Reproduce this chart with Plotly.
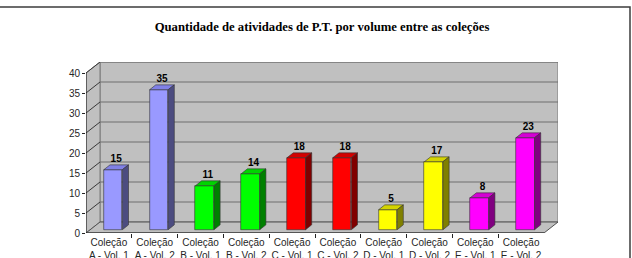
import plotly.graph_objects as go

# ---------------- data ----------------
categories = ["Coleção<br>A - Vol. 1", "Coleção<br>A - Vol. 2",
              "Coleção<br>B - Vol. 1", "Coleção<br>B - Vol. 2",
              "Coleção<br>C - Vol. 1", "Coleção<br>C - Vol. 2",
              "Coleção<br>D - Vol. 1", "Coleção<br>D - Vol. 2",
              "Coleção<br>E - Vol. 1", "Coleção<br>E - Vol. 2"]
values = [15, 35, 11, 14, 18, 18, 5, 17, 8, 23]
y_ticks = [0, 5, 10, 15, 20, 25, 30, 35, 40]

front_colors = ["#9999FF", "#9999FF", "#00FF00", "#00FF00", "#FF0000",
                "#FF0000", "#FFFF00", "#FFFF00", "#FF00FF", "#FF00FF"]
top_colors = ["#8080E6", "#8080E6", "#00D400", "#00D400", "#D40000",
              "#D40000", "#D4D400", "#D4D400", "#D400D4", "#D400D4"]
side_colors = ["#4C4C80", "#4C4C80", "#008000", "#008000", "#800000",
               "#800000", "#808000", "#808000", "#800080", "#800080"]

title = "Quantidade de atividades de P.T. por volume entre as coleções"

# ---------------- geometry ----------------
W, H = 632, 258
PL, PR, PT, PB = 86, 558, 62, 233          # plot area in pixels
n = len(values)
ymax = y_ticks[-1]
px_x = (544 - PL) / n                       # pixels per category
px_y = 4.0                                  # pixels per unit
DX = 14 / px_x                              # wall depth (x units)
DY = 11 / px_y                              # wall depth (y units)
x_lo, x_hi = -0.5, n - 0.5 + DX
y_lo, y_hi = 0, ymax + DY

f0, fd = 0.30, 0.44                         # bar front offset / bar depth fractions
BW = 18.5 / px_x
ox, oy = f0 * DX, f0 * DY
ddx, ddy = fd * DX, fd * DY

fig = go.Figure()

# ---------------- walls (background shapes) ----------------
wall_fill = "#C0C0C0"
edge = "#7A7A7A"
shapes = []
def poly(pts, fill, line, width=1, layer="below"):
    path = "M " + " L ".join(f"{x},{y}" for x, y in pts) + " Z"
    shapes.append(dict(type="path", path=path, xref="x", yref="y",
                       fillcolor=fill, line=dict(color=line, width=width), layer=layer))

# back wall
poly([(x_lo + DX, DY), (n - 0.5 + DX, DY), (n - 0.5 + DX, ymax + DY), (x_lo + DX, ymax + DY)],
     wall_fill, edge)
# left wall
poly([(x_lo, 0), (x_lo + DX, DY), (x_lo + DX, ymax + DY), (x_lo, ymax)], wall_fill, edge)
# floor
poly([(x_lo, 0), (n - 0.5, 0), (n - 0.5 + DX, DY), (x_lo + DX, DY)], wall_fill, "#505050")

# gridlines
for t in y_ticks[1:]:
    shapes.append(dict(type="line", xref="x", yref="y", x0=x_lo + DX, y0=t + DY,
                       x1=n - 0.5 + DX, y1=t + DY, line=dict(color="#6E6E6E", width=1),
                       layer="below"))
    shapes.append(dict(type="line", xref="x", yref="y", x0=x_lo, y0=t,
                       x1=x_lo + DX, y1=t + DY, line=dict(color="#3A3A3A", width=1),
                       layer="below"))
# front-left edge (value axis)
shapes.append(dict(type="line", xref="x", yref="y", x0=x_lo, y0=0, x1=x_lo, y1=ymax,
                   line=dict(color="#222222", width=1), layer="below"))
# front floor edge
shapes.append(dict(type="line", xref="x", yref="y", x0=x_lo, y0=0, x1=n - 0.5, y1=0,
                   line=dict(color="#222222", width=1), layer="below"))

# outer frame
shapes.append(dict(type="rect", xref="paper", yref="paper",
                   x0=(-2 - PL) / (PR - PL), x1=(630 - PL) / (PR - PL),
                   y0=(PB - 262) / (PB - PT), y1=(PB - 7) / (PB - PT),
                   line=dict(color="#3C3C3C", width=1.5), fillcolor="rgba(0,0,0,0)",
                   layer="above"))

# ---------------- bars ----------------
xc = [i + ox for i in range(n)]
fig.add_trace(go.Bar(
    x=xc, y=values, base=oy, width=BW,
    marker=dict(color=front_colors, line=dict(color="#333333", width=0.6)),
    hoverinfo="skip", showlegend=False))

for i, v in enumerate(values):
    x0, x1 = xc[i] - BW / 2, xc[i] + BW / 2
    top = v + oy
    # top face
    fig.add_trace(go.Scatter(
        x=[x0, x1, x1 + ddx, x0 + ddx, x0],
        y=[top, top, top + ddy, top + ddy, top],
        fill="toself", fillcolor=top_colors[i], mode="lines",
        line=dict(color="#333333", width=0.6), hoverinfo="skip", showlegend=False))
    # side face
    fig.add_trace(go.Scatter(
        x=[x1, x1 + ddx, x1 + ddx, x1, x1],
        y=[oy, oy + ddy, top + ddy, top, oy],
        fill="toself", fillcolor=side_colors[i], mode="lines",
        line=dict(color="#333333", width=0.6), hoverinfo="skip", showlegend=False))

# data labels
fig.add_trace(go.Scatter(
    x=[x + ddx / 2 for x in xc],
    y=[v + oy + ddy + 1.3 for v in values],
    text=[str(v) for v in values], mode="text", textposition="middle center",
    textfont=dict(family="Liberation Sans", size=10, color="#000000", weight="bold"),
    hoverinfo="skip", showlegend=False))

fig.update_layout(
    width=W, height=H,
    margin=dict(l=PL, r=W - PR, t=PT, b=H - PB, pad=0, autoexpand=False),
    paper_bgcolor="white", plot_bgcolor="white",
    shapes=shapes,
    title=dict(text="<b>" + title + "</b>", x=0.5, xref="paper", xanchor="center",
               y=1 - 27 / H, yref="container", yanchor="middle",
               font=dict(family="'Liberation Serif', 'Times New Roman', serif",
                         size=12.7, color="#000000")),
    xaxis=dict(range=[x_lo, x_hi], showgrid=False, zeroline=False, showline=False,
               automargin=False, ticklabelstandoff=2,
               tickvals=list(range(n)), ticktext=categories, ticks="",
               tickfont=dict(family="Liberation Sans", size=10, color="#262626"),
               minor=dict(tickvals=[i + 0.5 for i in range(n - 1)], ticks="outside",
                          ticklen=4, tickcolor="#222222", showgrid=False),
               fixedrange=True),
    yaxis=dict(range=[y_lo, y_hi], showgrid=False, zeroline=False, showline=False,
               automargin=False,
               tickvals=y_ticks, ticks="outside", ticklen=3, tickcolor="#222222",
               tickfont=dict(family="Liberation Sans", size=10, color="#262626"),
               fixedrange=True),
    bargap=0,
)

fig.write_html("out.html")
